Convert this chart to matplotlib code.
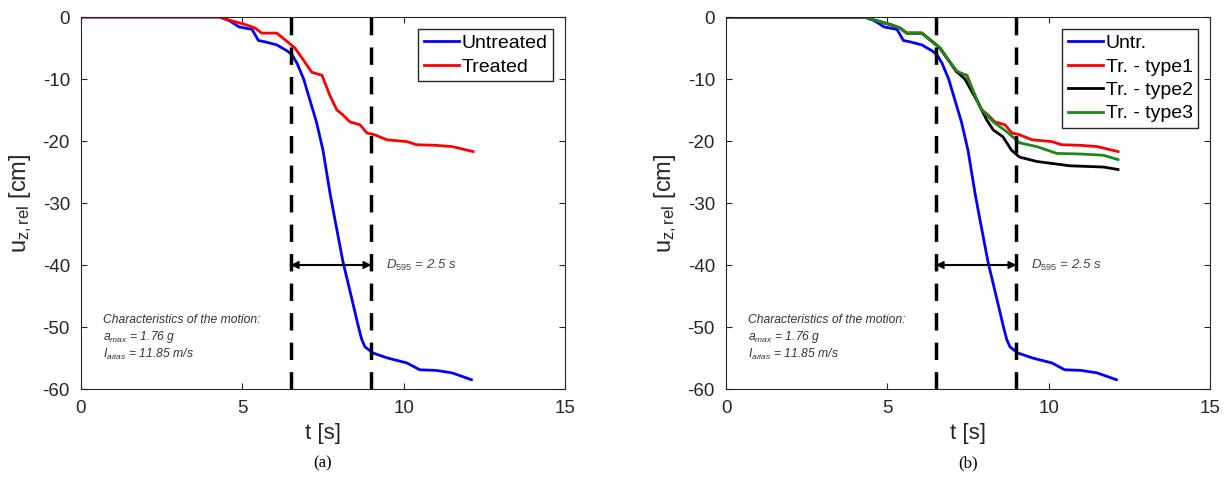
import matplotlib
matplotlib.use('Agg')
import matplotlib.pyplot as plt

plt.rcParams['font.family'] = ['Liberation Sans', 'DejaVu Sans']
plt.rcParams['mathtext.fontset'] = 'custom'
plt.rcParams['mathtext.rm'] = 'Liberation Sans'
plt.rcParams['mathtext.it'] = 'Liberation Sans:italic'
plt.rcParams['axes.unicode_minus'] = False

# untreated soil
t_untr = [0, 4.3, 4.6, 4.9, 5.3, 5.5, 5.7, 6.07, 6.4, 6.54, 6.7, 6.9, 7.1, 7.3,
          7.5, 7.72, 7.9, 8.12, 8.4, 8.6, 8.7, 8.8, 9.05, 9.5, 10.1, 10.5, 11.0, 11.5, 12.1]
u_untr = [0, 0, -0.6, -1.6, -2.0, -3.8, -4.0, -4.5, -5.5, -6.1, -7.5, -10, -13.5, -17,
          -21.5, -28.5, -33.5, -39.5, -45.6, -50, -52, -53.2, -54.2, -55.0, -55.8, -56.9,
          -57.0, -57.4, -58.5]

# treated (type1)
t_tr1 = [0, 4.3, 4.6, 5.14, 5.4, 5.6, 6.07, 6.4, 6.63, 6.9, 7.15, 7.47, 7.7, 7.93,
         8.12, 8.33, 8.65, 8.86, 9.1, 9.48, 10.1, 10.4, 11.0, 11.5, 12.15]
u_tr1 = [0, 0, -0.5, -1.3, -1.8, -2.6, -2.6, -4.0, -5.0, -7.0, -8.9, -9.4, -12.5, -15,
         -15.8, -16.9, -17.4, -18.7, -19.0, -19.8, -20.1, -20.6, -20.7, -20.9, -21.7]

# treated type2
t_tr2 = [0, 4.3, 4.6, 5.14, 5.4, 5.6, 6.07, 6.4, 6.63, 6.9, 7.15, 7.4, 7.77, 8.08,
         8.28, 8.58, 8.85, 9.1, 9.63, 10.66, 11.7, 12.15]
u_tr2 = [0, 0, -0.5, -1.3, -1.8, -2.6, -2.6, -4.0, -5.0, -7.0, -8.8, -10.0, -13.4, -16.6,
         -18.2, -19.3, -21.5, -22.6, -23.3, -24.0, -24.2, -24.6]

# treated type3
t_tr3 = [0, 4.3, 4.6, 5.14, 5.4, 5.6, 6.07, 6.4, 6.63, 6.9, 7.15, 7.46, 7.9, 8.28,
         8.7, 9.1, 9.63, 10.25, 11.0, 11.7, 12.15]
u_tr3 = [0, 0, -0.5, -1.3, -1.8, -2.6, -2.6, -4.0, -5.0, -7.0, -8.7, -9.5, -14.8, -16.9,
         -18.5, -20.3, -20.9, -22.0, -22.1, -22.3, -23.0]

t5, t95 = 6.5, 9.0
xticks = [0, 5, 10, 15]
yticks = [-60, -50, -40, -30, -20, -10, 0]

fig = plt.figure(figsize=(12.29, 4.97), dpi=100)
W, H = 1229, 497
ax1 = fig.add_axes([81 / W, 1 - 389 / H, 484 / W, 372 / H])
ax2 = fig.add_axes([726 / W, 1 - 389 / H, 484 / W, 372 / H])

gray = '#262626'


def style(ax, caption):
    ax.set_xlim(0, 15)
    ax.set_ylim(-60, 0)
    ax.set_xticks(xticks)
    ax.set_yticks(yticks)
    ax.tick_params(direction='in', top=True, right=True, labelsize=13.5,
                   colors=gray, length=4, pad=8)
    for s in ax.spines.values():
        s.set_color(gray)
        s.set_linewidth(0.8)
    ax.set_xlabel('t [s]', fontsize=16, color=gray, labelpad=4)
    ax.set_ylabel(r'u$_{\mathrm{z,rel}}$ [cm]', fontsize=17, color=gray, labelpad=6)
    ax.axvline(t5, color='k', ls=(0, (5, 3.5)), lw=2.5)
    ax.axvline(t95, color='k', ls=(0, (5, 3.5)), lw=2.5)
    ax.annotate('', xy=(t5, -40), xytext=(t95, -40),
                arrowprops=dict(arrowstyle='<|-|>', color='k', lw=1,
                                shrinkA=0, shrinkB=0, mutation_scale=12))
    ax.annotate('', xy=(t5, -40), xytext=(t95, -40),
                arrowprops=dict(arrowstyle='|-|, widthA=0.35, widthB=0.35', color='k',
                                lw=1.5, shrinkA=0, shrinkB=0))
    ax.text(t95 + 0.45, -40, r'$D_{595}$ = 2.5 s', fontsize=9.5, style='italic',
            color='#444444', va='center')
    ax.text(0.68, -48.9, 'Characteristics of the motion:', fontsize=8.7, style='italic',
            color='#333333', va='center')
    ax.text(0.68, -51.6, r'$a_{max}$ = 1.76 g', fontsize=8.7, style='italic',
            color='#333333', va='center')
    ax.text(0.68, -54.4, r'$I_{arias}$ = 11.85 m/s', fontsize=8.7, style='italic',
            color='#333333', va='center')
    ax.text(0.5, -0.2, caption, transform=ax.transAxes, ha='center', va='center',
            fontsize=12, family='Liberation Serif')
    ax.legend(loc='upper right', fontsize=14, fancybox=False, edgecolor=gray,
              framealpha=1, handlelength=1.8, handletextpad=0.15, borderpad=0.3,
              labelspacing=0.3, borderaxespad=0.6)


ax1.plot(t_untr, u_untr, color='#0000ff', lw=2, label='Untreated')
ax1.plot(t_tr1, u_tr1, color='#ff0000', lw=2, label='Treated')
style(ax1, '(a)')

ax2.plot(t_untr, u_untr, color='#0000ff', lw=2, label='Untr.')
ax2.plot(t_tr1, u_tr1, color='#ff0000', lw=2, label='Tr. - type1')
ax2.plot(t_tr2, u_tr2, color='k', lw=2, label='Tr. - type2')
ax2.plot(t_tr3, u_tr3, color='#1a8a1a', lw=2, label='Tr. - type3')
style(ax2, '(b)')

fig.savefig('out.png', dpi=100)
